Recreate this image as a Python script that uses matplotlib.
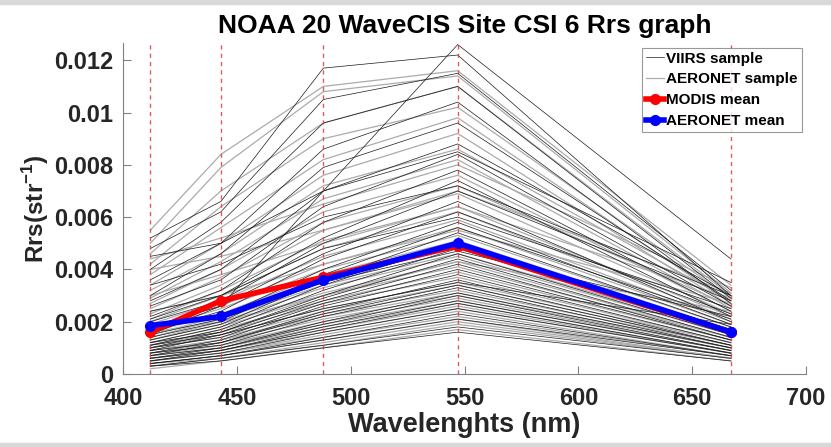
import numpy as np
import matplotlib
matplotlib.use("Agg")
import matplotlib.pyplot as plt
from matplotlib.patches import Rectangle

plt.rcParams['font.family'] = ['Liberation Sans', 'DejaVu Sans']
plt.rcParams['font.weight'] = 'bold'
plt.rcParams['mathtext.fontset'] = 'custom'
plt.rcParams['mathtext.bf'] = 'Liberation Sans:bold'
plt.rcParams['mathtext.rm'] = 'Liberation Sans:bold'

# wavelengths of the bands (nm)
wavelengths = [412, 443, 488, 547, 667]

# VIIRS samples (thin black lines)
viirs_samples = [
    [0.0015, 0.0026, 0.0070, 0.0126, 0.0044],
    [0.0052, 0.0066, 0.0117, 0.0122, 0.0030],
    [0.0048, 0.0062, 0.0105, 0.0115, 0.0032],
    [0.0040, 0.0058, 0.0096, 0.0110, 0.0029],
    [0.0036, 0.0050, 0.0086, 0.0104, 0.0027],
    [0.0030, 0.0046, 0.0079, 0.0096, 0.0028],
    [0.0028, 0.0040, 0.0070, 0.0088, 0.0030],
    [0.0026, 0.0036, 0.0064, 0.0084, 0.0026],
    [0.0022, 0.0032, 0.0058, 0.0078, 0.0024],
    [0.0024, 0.0030, 0.0052, 0.0074, 0.0022],
    [0.0020, 0.0028, 0.0050, 0.0070, 0.0028],
    [0.0018, 0.0026, 0.0046, 0.0066, 0.0020],
    [0.0016, 0.0024, 0.0044, 0.0062, 0.0023],
    [0.0017, 0.0022, 0.0040, 0.0058, 0.0019],
    [0.0014, 0.0020, 0.0038, 0.0056, 0.0021],
    [0.0013, 0.0019, 0.0036, 0.0054, 0.0018],
    [0.0012, 0.0018, 0.0034, 0.0050, 0.0017],
    [0.0011, 0.0017, 0.0032, 0.0048, 0.0016],
    [0.0010, 0.0016, 0.0030, 0.0046, 0.0015],
    [0.0012, 0.0016, 0.0029, 0.0044, 0.0014],
    [0.0009, 0.0015, 0.0028, 0.0042, 0.0013],
    [0.0010, 0.0014, 0.0027, 0.0040, 0.0013],
    [0.0008, 0.0013, 0.0026, 0.0038, 0.0012],
    [0.0009, 0.0012, 0.0024, 0.0036, 0.0011],
    [0.0007, 0.0012, 0.0023, 0.0034, 0.0011],
    [0.0008, 0.0011, 0.0022, 0.0033, 0.0010],
    [0.0006, 0.0010, 0.0020, 0.0031, 0.0010],
    [0.0007, 0.0010, 0.0019, 0.0030, 0.0009],
    [0.0005, 0.0009, 0.0018, 0.0028, 0.0009],
    [0.0006, 0.0009, 0.0017, 0.0027, 0.0008],
    [0.0005, 0.0008, 0.0016, 0.0025, 0.0008],
    [0.0004, 0.0007, 0.0014, 0.0023, 0.0007],
    [0.0004, 0.0007, 0.0013, 0.0021, 0.0007],
    [0.0003, 0.0006, 0.0011, 0.0018, 0.0006],
    [0.0003, 0.0005, 0.0010, 0.0016, 0.0005],
    [0.0045, 0.0050, 0.0070, 0.0085, 0.0035],
    [0.0034, 0.0042, 0.0060, 0.0072, 0.0030],
    [0.0021, 0.0030, 0.0048, 0.0060, 0.0025],
    [0.0015, 0.0021, 0.0035, 0.0047, 0.0022],
    [0.0011, 0.0015, 0.0025, 0.0035, 0.0019],
]

# AERONET samples (gray lines)
aeronet_samples = [
    [0.0055, 0.0084, 0.0110, 0.0116, 0.0034],
    [0.0050, 0.0079, 0.0108, 0.0114, 0.0031],
    [0.0046, 0.0070, 0.0096, 0.0110, 0.0030],
    [0.0042, 0.0064, 0.0090, 0.0102, 0.0029],
    [0.0038, 0.0056, 0.0082, 0.0098, 0.0027],
    [0.0034, 0.0050, 0.0076, 0.0092, 0.0026],
    [0.0032, 0.0046, 0.0072, 0.0086, 0.0028],
    [0.0029, 0.0043, 0.0067, 0.0082, 0.0025],
    [0.0027, 0.0040, 0.0062, 0.0076, 0.0024],
    [0.0025, 0.0037, 0.0058, 0.0072, 0.0026],
    [0.0023, 0.0034, 0.0055, 0.0069, 0.0023],
    [0.0021, 0.0032, 0.0051, 0.0064, 0.0022],
    [0.0020, 0.0030, 0.0048, 0.0062, 0.0021],
    [0.0019, 0.0028, 0.0045, 0.0059, 0.0020],
    [0.0018, 0.0026, 0.0042, 0.0056, 0.0019],
    [0.0017, 0.0025, 0.0040, 0.0053, 0.0018],
    [0.0016, 0.0023, 0.0038, 0.0051, 0.0017],
    [0.0015, 0.0022, 0.0036, 0.0049, 0.0016],
    [0.0014, 0.0021, 0.0034, 0.0046, 0.0016],
    [0.0013, 0.0020, 0.0033, 0.0045, 0.0015],
    [0.0013, 0.0019, 0.0031, 0.0043, 0.0014],
    [0.0012, 0.0018, 0.0030, 0.0041, 0.0014],
    [0.0011, 0.0017, 0.0028, 0.0039, 0.0013],
    [0.0011, 0.0016, 0.0027, 0.0037, 0.0012],
    [0.0010, 0.0015, 0.0025, 0.0035, 0.0012],
    [0.0010, 0.0014, 0.0024, 0.0034, 0.0011],
    [0.0009, 0.0013, 0.0023, 0.0032, 0.0011],
    [0.0009, 0.0013, 0.0022, 0.0031, 0.0010],
    [0.0008, 0.0012, 0.0021, 0.0030, 0.0010],
    [0.0008, 0.0011, 0.0020, 0.0029, 0.0009],
    [0.0007, 0.0011, 0.0019, 0.0028, 0.0009],
    [0.0007, 0.0010, 0.0018, 0.0027, 0.0008],
    [0.0006, 0.0009, 0.0017, 0.0026, 0.0008],
    [0.0006, 0.0009, 0.0016, 0.0025, 0.0008],
    [0.0005, 0.0008, 0.0015, 0.0024, 0.0007],
    [0.0005, 0.0008, 0.0014, 0.0022, 0.0007],
    [0.0004, 0.0007, 0.0013, 0.0021, 0.0006],
    [0.0004, 0.0006, 0.0012, 0.0020, 0.0006],
    [0.0003, 0.0006, 0.0011, 0.0019, 0.0006],
    [0.0002, 0.0005, 0.0010, 0.0017, 0.0005],
    [0.0044, 0.0052, 0.0065, 0.0080, 0.0033],
    [0.0040, 0.0045, 0.0055, 0.0070, 0.0031],
    [0.0030, 0.0038, 0.0050, 0.0064, 0.0029],
    [0.0024, 0.0030, 0.0042, 0.0055, 0.0027],
    [0.0016, 0.0020, 0.0030, 0.0043, 0.0024],
]

modis_mean = [0.0016, 0.0028, 0.0037, 0.0049, 0.0016]
aeronet_mean = [0.00185, 0.0022, 0.0036, 0.0050, 0.0016]

x_ticks = [400, 450, 500, 550, 600, 650, 700]
y_ticks = [0, 0.002, 0.004, 0.006, 0.008, 0.01, 0.012]
y_ticklabels = ['0', '0.002', '0.004', '0.006', '0.008', '0.01', '0.012']

txt = '#262626'

fig = plt.figure(figsize=(8.31, 4.47), dpi=100)
# thin gray frame bands at top and bottom of the picture
fig.patches.append(Rectangle((0, 0.991), 1, 0.009, transform=fig.transFigure,
                             color='#d9d9d9', zorder=0))
fig.patches.append(Rectangle((0, 0), 1, 0.009, transform=fig.transFigure,
                             color='#d9d9d9', zorder=0))

ax = fig.add_axes([0.148, 0.1633, 0.822, 0.7405])

for i, s in enumerate(aeronet_samples):
    ax.plot(wavelengths, s, color='#ababab', lw=0.9,
            label='AERONET sample' if i == 0 else None, zorder=2)
for i, s in enumerate(viirs_samples):
    ax.plot(wavelengths, s, color='#1a1a1a', lw=0.5,
            label='VIIRS sample' if i == 0 else None, zorder=3)

for w in wavelengths:
    ax.axvline(w, color='#e03c3c', ls=(0, (3, 3)), lw=1.0, alpha=0.85, zorder=4)

ax.plot(wavelengths, modis_mean, color='#ff0000', lw=4, marker='o', ms=7,
        label='MODIS mean', zorder=5)
ax.plot(wavelengths, aeronet_mean, color='#0000ff', lw=4, marker='o', ms=7,
        label='AERONET mean', zorder=6)

ax.set_xlim(400, 700)
ax.set_ylim(0, 0.01266)
ax.set_xticks(x_ticks)
ax.set_yticks(y_ticks)
ax.set_yticklabels(y_ticklabels)

for side in ['top', 'right']:
    ax.spines[side].set_visible(False)
for side in ['left', 'bottom']:
    ax.spines[side].set_color('#808080')
    ax.spines[side].set_linewidth(0.8)
ax.tick_params(direction='in', length=6, width=0.8, color='#808080',
               labelsize=17, labelcolor=txt)
ax.tick_params(axis='x', pad=9)
ax.tick_params(axis='y', pad=7)
for lab in ax.get_xticklabels() + ax.get_yticklabels():
    lab.set_fontweight('bold')

ax.set_xlabel('Wavelenghts (nm)', fontsize=19.5, fontweight='bold', color=txt, labelpad=2)
ax.set_ylabel('Rrs(str$^{\\mathbf{-1}}$)', fontsize=17.5, fontweight='bold', color=txt,
              labelpad=2)
ax.set_title('NOAA 20 WaveCIS Site CSI 6 Rrs graph', fontsize=19, fontweight='bold',
             color='black', pad=7)

h, l = ax.get_legend_handles_labels()
order = [l.index('VIIRS sample'), l.index('AERONET sample'),
         l.index('MODIS mean'), l.index('AERONET mean')]
leg = ax.legend([h[k] for k in order], [l[k] for k in order], loc='upper right',
                bbox_to_anchor=(0.998, 0.995), frameon=True,
                fancybox=False, edgecolor='#808080', handlelength=1.2,
                handletextpad=0.15, borderpad=0.25, labelspacing=0.45,
                borderaxespad=0.2, prop={'weight': 'bold', 'size': 11})
leg.get_frame().set_linewidth(0.8)

fig.savefig('out.png', dpi=100, facecolor='white')
